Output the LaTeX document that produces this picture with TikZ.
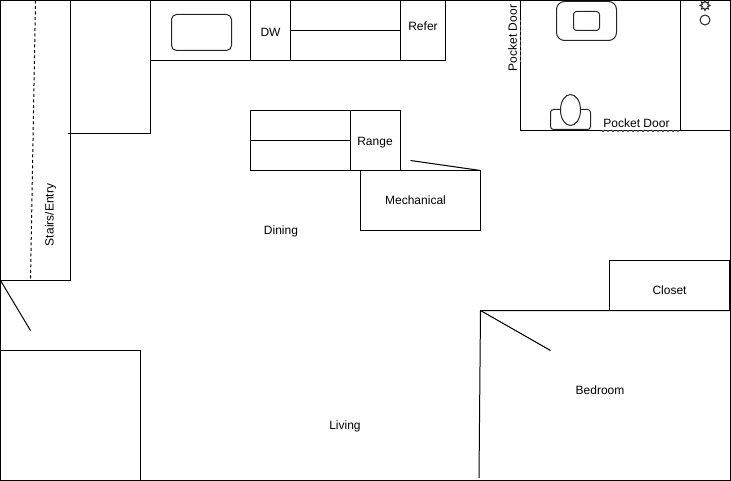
\documentclass[tikz,border=0pt]{standalone}
\usepackage{fontspec}
\setmainfont{Liberation Sans}
\usetikzlibrary{shapes.geometric}
\tikzset{
  wall/.style={draw=black,line width=1pt},
  roomlabel/.style={font=\fontsize{12}{14}\selectfont,inner sep=0pt},
  fixture/.style={draw=black!85,line width=1pt,rounded corners=#1},
  pocket/.style={draw=black!65,line width=1.8pt,dash pattern=on 1.6pt off 3.4pt}
}
\begin{document}
\begin{tikzpicture}[x=1pt,y=-1pt]
  \useasboundingbox (0,0) rectangle (731,481);
  % outer walls
  \draw [wall] (0.5,0.5) rectangle (730.5,480.5);
  % stairs
  \draw [wall] (0.5,0.5) rectangle (70.5,280.5);
  \coordinate (stairtop) at (35.5,0.5);
  \coordinate (stairbot) at (30.5,280.5);
  \draw [wall,dash pattern=on 3pt off 2.5pt] (stairtop) -- (stairbot);
  \node [roomlabel,rotate=90] (stairs) at (50.5,215) {Stairs/Entry};
  % stub walls by the stairs
  \coordinate (stubleft) at (68,133.5);
  \coordinate (stubright) at (150.5,133.5);
  \coordinate (stubtop) at (150.5,0.5);
  \draw [wall] (stubleft) -- (stubright) -- (stubtop);
  % entry door
  \coordinate (entryhinge) at (0.5,280.5);
  \coordinate (entryswing) at (30.5,330.5);
  \draw [wall] (entryhinge) -- (entryswing);
  \draw [wall] (0.5,350.5) rectangle (140.5,480.5);
  % kitchen counter
  \draw [wall] (150.5,0.5) rectangle (445.5,60.5);
  \draw [wall] (250.5,0.5) -- (250.5,60.5);
  \draw [wall] (290.5,0.5) -- (290.5,60.5);
  \draw [wall] (400.5,0.5) -- (400.5,60.5);
  \draw [wall] (290.5,30.5) -- (400.5,30.5);
  \draw [fixture=5pt] (171.5,14.5) rectangle (231.5,50.5);
  \node [roomlabel] (dw) at (270.5,32.5) {DW};
  \node [roomlabel] (refer) at (423,26) {Refer};
  % island
  \draw [wall] (250.5,110.5) rectangle (400.5,170.5);
  \draw [wall] (350.5,110.5) -- (350.5,170.5);
  \draw [wall] (250.5,140.5) -- (350.5,140.5);
  \node [roomlabel] (range) at (375,142.5) {Range};
  % mechanical
  \draw [wall] (360.5,170.5) rectangle (480.5,230.5);
  \coordinate (mechdoor) at (410.5,160.5);
  \coordinate (mechhinge) at (480.5,170.5);
  \draw [wall] (mechdoor) -- (mechhinge);
  \node [roomlabel] (mech) at (415.5,200.5) {Mechanical};
  \node [roomlabel] (dining) at (281,231) {Dining};
  \node [roomlabel] (living) at (345,426) {Living};
  % bathroom
  \draw [wall] (520.5,0.5) rectangle (730.5,130.5);
  \draw [wall] (680.5,0.5) -- (680.5,130.5);
  \draw [fixture=8pt] (556.5,1.5) rectangle (616.5,40.5);
  \draw [fixture=3pt] (573.5,11.5) rectangle (599.5,30.5);
  \draw [fixture=3pt] (550.5,109.5) rectangle (590.5,129.5);
  \node [draw=black!85,line width=1pt,fill=white,ellipse,minimum width=20pt,minimum height=31pt,inner sep=0pt] (bowl) at (570.5,110) {};
  \node [draw=black!85,line width=1pt,circle,minimum size=10pt,inner sep=0pt] (drain) at (705,20) {};
  \node [draw=black!85,line width=1pt,star,star points=8,star point ratio=1.7,minimum size=10pt,inner sep=0pt] (shower) at (705,5.5) {};
  \coordinate (pockettop) at (520.5,20);
  \coordinate (pocketbot) at (520.5,62);
  \draw [pocket] (pockettop) -- (pocketbot);
  \coordinate (pocketleft) at (602,131);
  \coordinate (pocketright) at (679,131);
  \draw [pocket] (pocketleft) -- (pocketright);
  \node [roomlabel,rotate=90] (pocketv) at (512.5,38) {Pocket Door};
  \node [roomlabel] (pocketh) at (636.5,123.5) {Pocket Door};
  % bedroom
  \coordinate (bedcorner) at (480.5,310.5);
  \coordinate (bedright) at (730.5,310.5);
  \coordinate (bedbot) at (479,478);
  \coordinate (bedswing) at (550.5,350.5);
  \draw [wall] (bedbot) -- (bedcorner) -- (bedright);
  \draw [wall] (bedcorner) -- (bedswing);
  \draw [wall] (609.5,310.5) -- (609.5,260.5) -- (729.5,260.5) -- (729.5,310.5);
  \node [roomlabel] (closet) at (669.5,290.5) {Closet};
  \node [roomlabel] (bedroom) at (600,390.5) {Bedroom};
\end{tikzpicture}
\end{document}
